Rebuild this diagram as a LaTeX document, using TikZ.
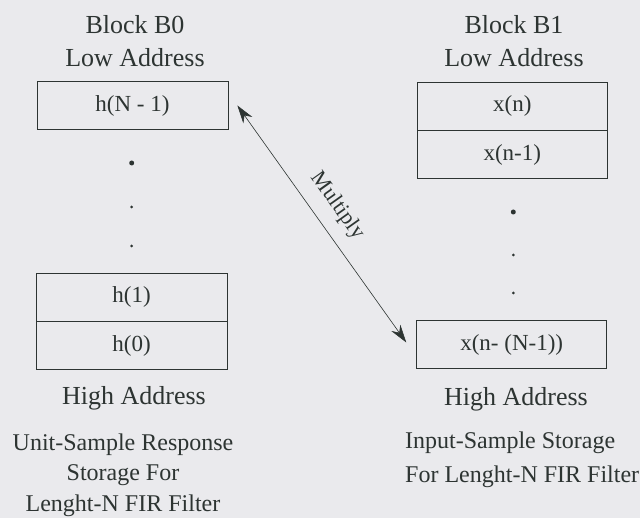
\documentclass[tikz,border=0pt]{standalone}
\usepackage{fontspec}
\setmainfont{Liberation Serif}
\usetikzlibrary{arrows.meta,calc}
\definecolor{bg}{RGB}{234,234,237}
\definecolor{ink}{RGB}{45,52,50}
\begin{document}
\begin{tikzpicture}[x=1pt,y=-1pt,
  every node/.style={text=ink},
  cell/.style={draw=ink,line width=0.8pt,minimum width=191pt,minimum height=48pt,inner sep=0pt,font=\fontsize{23}{27}\selectfont},
  head/.style={font=\fontsize{26}{30}\selectfont,inner sep=0pt},
  captxt/.style={font=\fontsize{24}{28}\selectfont,inner sep=0pt},
  dotbig/.style={fill=ink,draw=none,circle,inner sep=0pt,minimum size=5pt},
  dotsmall/.style={fill=ink,draw=none,circle,inner sep=0pt,minimum size=3pt},
  link/.style={draw=ink,line width=0.6pt,{Stealth[length=18pt,width=11pt]}-{Stealth[length=18pt,width=11pt]}}]
\fill[bg] (0,0) rectangle (640,518);
\useasboundingbox (0,0) rectangle (640,518);
% left block
\node[head] (b0) at (135,25) {Block B0};
\node[head] (lo0) at (135,58) {Low Address};
\node[cell] (hN1) at (132.5,105.5) {h(N - 1)};
\node[dotbig] (ld1) at (131.7,163) {};
\node[dotsmall] (ld2) at (131.7,207) {};
\node[dotsmall] (ld3) at (131.7,246) {};
\node[cell] (h1) at (131.5,297) {h(1)};
\node[cell,anchor=north] (h0) at (h1.south) {h(0)};
\node[head] (hi0) at (134,398) {High Address};
\node[captxt] (c01) at (123,445) {Unit-Sample Response};
\node[captxt] (c02) at (123,475) {Storage For};
\node[captxt] (c03) at (123,506) {Lenght-N FIR Filter};
% right block
\node[head] (b1) at (514,25) {Block B1};
\node[head] (lo1) at (514,58) {Low Address};
\node[cell,minimum width=190pt] (xn) at (512.3,106) {x(n)};
\node[cell,minimum width=190pt,anchor=north] (xn1) at (xn.south) {x(n-1)};
\node[dotbig] (rd1) at (513.3,212) {};
\node[dotsmall] (rd2) at (513.3,255) {};
\node[dotsmall] (rd3) at (513.3,293) {};
\node[cell,minimum width=190pt] (xN) at (511.7,344.5) {x(n- (N-1))};
\node[head] (hi1) at (516,399) {High Address};
\node[captxt,anchor=west] (c11) at (405,443) {Input-Sample Storage};
\node[captxt,anchor=west] (c12) at (405,477) {For Lenght-N FIR Filter};
% multiply arrow
\coordinate (pa) at ($(hN1.east)+(9,0)$);
\coordinate (pb) at ($(xN.west)+(-10,-2)$);
\draw[link] (pa) -- node[pos=0.48,sloped,above=13pt,font=\fontsize{22}{26}\selectfont,inner sep=0pt] (mul) {Multiply} (pb);
\end{tikzpicture}
\end{document}
